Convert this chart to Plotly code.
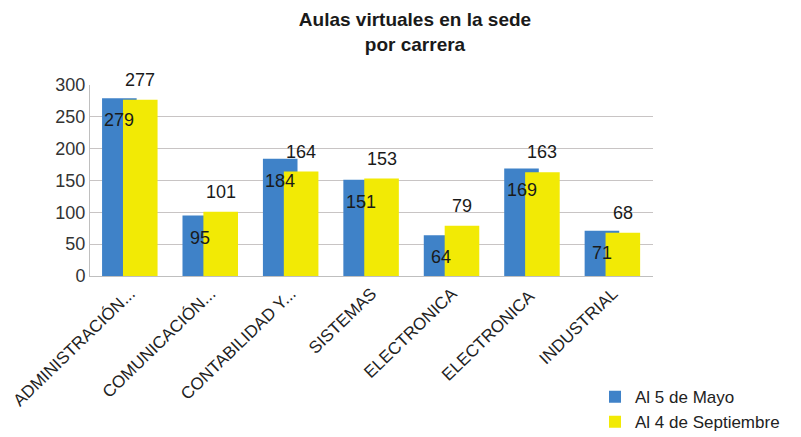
import plotly.graph_objects as go

categorias = ["ADMINISTRACIÓN...", "COMUNICACIÓN...", "CONTABILIDAD Y...", "SISTEMAS",
              "ELECTRONICA", "ELECTRONICA ", "INDUSTRIAL"]
al_5_mayo = [279, 95, 184, 151, 64, 169, 71]
al_4_septiembre = [277, 101, 164, 153, 79, 163, 68]
ticks_y = [0, 50, 100, 150, 200, 250, 300]

AZUL = "#3F82C8"
AMARILLO = "#F2EA05"
ANCHO = 0.43
OFF_AZUL = -0.35
OFF_AMARILLO = -0.09

# la página añade 8 px de margen al cuerpo: se descuenta del tamaño
ANCHO_FIG, ALTO_FIG = 793, 429

fig = go.Figure()

fig.add_trace(go.Bar(
    x=categorias, y=al_5_mayo, name="Al 5 de Mayo",
    marker=dict(color=AZUL, line=dict(width=0)),
    width=ANCHO, offset=OFF_AZUL
))
fig.add_trace(go.Bar(
    x=categorias, y=al_4_septiembre, name="Al 4 de Septiembre",
    marker=dict(color=AMARILLO, line=dict(width=0)),
    width=ANCHO, offset=OFF_AMARILLO
))

# Etiquetas de valores
anotaciones = []
for i, (a, b) in enumerate(zip(al_5_mayo, al_4_septiembre)):
    anotaciones.append(dict(
        x=i + OFF_AZUL + ANCHO / 2, y=a, yshift=-22, text=str(a),
        showarrow=False, font=dict(size=18, color="#1a1a1a")
    ))
    anotaciones.append(dict(
        x=i + OFF_AMARILLO + ANCHO / 2, y=b, yshift=20, text=str(b),
        showarrow=False, font=dict(size=18, color="#1a1a1a")
    ))

fig.update_layout(
    barmode="overlay",
    width=ANCHO_FIG, height=ALTO_FIG,
    margin=dict(l=82, r=148, t=77, b=161, autoexpand=False),
    paper_bgcolor="white", plot_bgcolor="white",
    font=dict(family="Liberation Sans, Arial, sans-serif", color="#333333"),
    title=dict(
        text="<b>Aulas virtuales en la sede<br>por carrera</b>",
        x=407 / ANCHO_FIG, xanchor="center", y=1 - 18 / ALTO_FIG, yanchor="middle",
        font=dict(size=19, color="#1a1a1a")
    ),
    annotations=anotaciones,
    legend=dict(
        x=0.897, xanchor="left", y=-0.54, yanchor="top",
        font=dict(size=17, color="#222222"),
        bgcolor="rgba(0,0,0,0)", tracegroupgap=0
    ),
    xaxis=dict(
        type="category", tickangle=-44,
        tickfont=dict(size=17, color="#222222"),
        showline=True, linecolor="#BFBFBF", linewidth=1,
        ticks="", showgrid=False, automargin=False
    ),
    yaxis=dict(
        range=[0, 300], tickvals=ticks_y,
        tickfont=dict(size=18, color="#333333"),
        showgrid=True, gridcolor="#C8C4C4", gridwidth=1,
        showline=True, linecolor="#BFBFBF", linewidth=1,
        zeroline=False, ticks="", automargin=False
    ),
    bargap=0.15
)

fig.write_html("out.html")
